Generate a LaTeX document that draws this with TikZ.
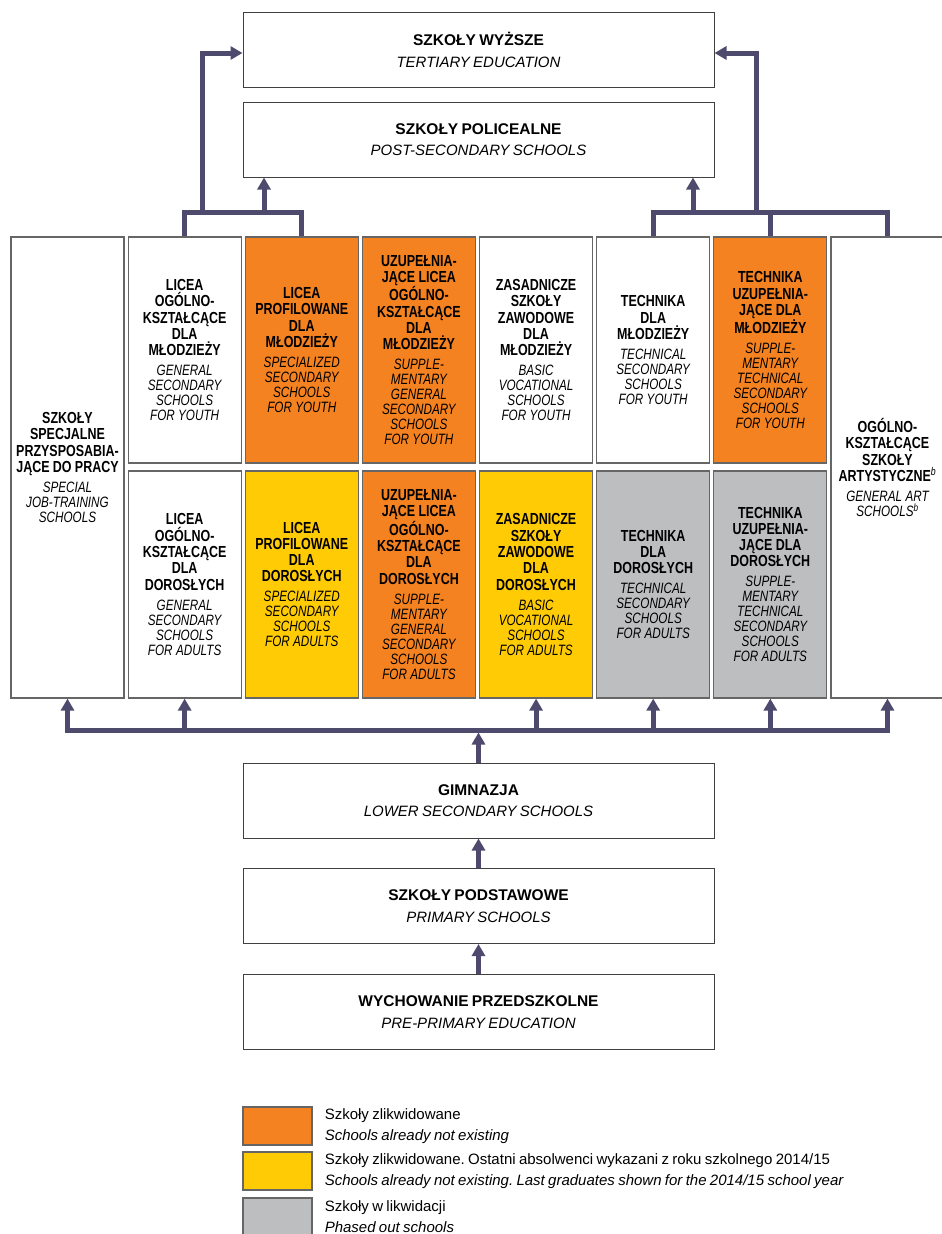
\documentclass[tikz,border=0pt]{standalone}
\usepackage{fontspec}
\setmainfont{Liberation Sans}
\newfontfamily\condfont{Liberation Sans}[FakeStretch=0.78]
\usetikzlibrary{arrows.meta,positioning}
\frenchspacing
\definecolor{flowc}{RGB}{78,74,110}
\definecolor{gone}{RGB}{245,130,32}
\definecolor{lastgrad}{RGB}{255,203,5}
\definecolor{phased}{RGB}{188,190,192}
\tikzset{>={Triangle[width=13pt,length=12pt]}}
\tikzstyle{level}=[draw=black!75,line width=1pt,minimum width=471pt,minimum height=75pt,
                   inner sep=0pt,text width=465pt,align=center]
\tikzstyle{school}=[draw=black!60,line width=1.2pt,minimum width=113pt,inner sep=0pt,
                    text width=111pt,align=center,font=\condfont]
\tikzstyle{flow}=[draw=flowc,line width=5pt]
\tikzstyle{key}=[draw=black!60,line width=1.2pt,minimum width=69pt,minimum height=38pt,inner sep=0pt]
\tikzstyle{keytext}=[inner sep=0pt,text width=600pt,align=left]
\newcommand{\lvltext}[2]{{\bfseries\fontsize{15.5}{18}\selectfont #1\par}%
  {\itshape\fontsize{15}{21.6}\selectfont #2\par}}
\newcommand{\celltext}[2]{{\bfseries\fontsize{16}{16.3}\selectfont #1\par}\vspace{5pt}%
  {\itshape\fontsize{15}{15}\selectfont #2\par}}
\newcommand{\keytext}[2]{{\fontsize{15}{21}\selectfont #1\par}{\itshape\fontsize{15}{21}\selectfont #2\par}}
\newcommand{\supb}{\textsuperscript{\normalfont\condfont\itshape b}}

\begin{document}
\begin{tikzpicture}[x=1pt,y=-1pt]
  \useasboundingbox (0,0) rectangle (942,1234);
  \def\dx{117.14} % column pitch
  \def\xa{67.5}   % centre of the first column

  % LEVELS
  \node[level] (wyzsze) at (478.5,50) {\lvltext{SZKOŁY WYŻSZE}{TERTIARY EDUCATION}};
  \node[level] (polic) at (478.5,139.5) {\lvltext{SZKOŁY POLICEALNE}{POST-SECONDARY SCHOOLS}};
  \node[level] (gimn) at (478.5,800.5) {\lvltext{GIMNAZJA}{LOWER SECONDARY SCHOOLS}};
  \node[level] (podst) at (478.5,906) {\lvltext{SZKOŁY PODSTAWOWE}{PRIMARY SCHOOLS}};
  \node[level] (przed) at (478.5,1012) {\lvltext{WYCHOWANIE PRZEDSZKOLNE}{PRE-PRIMARY EDUCATION}};

  % FULL HEIGHT COLUMNS
  \node[school,minimum height=461pt] (c1) at (\xa,467.5)
    {\celltext{SZKOŁY\\SPECJALNE\\PRZYSPOSABIA-\\JĄCE DO PRACY}{SPECIAL\\JOB-TRAINING\\SCHOOLS}};
  \node[school,minimum height=461pt] (c8) at (\xa+7*\dx,467.5)
    {\celltext{OGÓLNO-\\KSZTAŁCĄCE\\SZKOŁY\\ARTYSTYCZNE\supb}{GENERAL ART\\SCHOOLS\supb}};

  % YOUTH
  \node[school,minimum height=226pt] (c2t) at (\xa+\dx,350)
    {\celltext{LICEA\\OGÓLNO-\\KSZTAŁCĄCE\\DLA\\MŁODZIEŻY}{GENERAL\\SECONDARY\\SCHOOLS\\FOR YOUTH}};
  \node[school,minimum height=226pt,fill=gone] (c3t) at (\xa+2*\dx,350)
    {\celltext{LICEA\\PROFILOWANE\\DLA\\MŁODZIEŻY}{SPECIALIZED\\SECONDARY\\SCHOOLS\\FOR YOUTH}};
  \node[school,minimum height=226pt,fill=gone] (c4t) at (\xa+3*\dx,350)
    {\celltext{UZUPEŁNIA-\\JĄCE LICEA\\OGÓLNO-\\KSZTAŁCĄCE\\DLA\\MŁODZIEŻY}{SUPPLE-\\MENTARY\\GENERAL\\SECONDARY\\SCHOOLS\\FOR YOUTH}};
  \node[school,minimum height=226pt] (c5t) at (\xa+4*\dx,350)
    {\celltext{ZASADNICZE\\SZKOŁY\\ZAWODOWE\\DLA\\MŁODZIEŻY}{BASIC\\VOCATIONAL\\SCHOOLS\\FOR YOUTH}};
  \node[school,minimum height=226pt] (c6t) at (\xa+5*\dx,350)
    {\celltext{TECHNIKA\\DLA\\MŁODZIEŻY}{TECHNICAL\\SECONDARY\\SCHOOLS\\FOR YOUTH}};
  \node[school,minimum height=226pt,fill=gone] (c7t) at (\xa+6*\dx,350)
    {\celltext{TECHNIKA\\UZUPEŁNIA-\\JĄCE DLA\\MŁODZIEŻY}{SUPPLE-\\MENTARY\\TECHNICAL\\SECONDARY\\SCHOOLS\\FOR YOUTH}};

  % ADULTS
  \node[school,minimum height=227pt] (c2b) at (\xa+\dx,584.5)
    {\celltext{LICEA\\OGÓLNO-\\KSZTAŁCĄCE\\DLA\\DOROSŁYCH}{GENERAL\\SECONDARY\\SCHOOLS\\FOR ADULTS}};
  \node[school,minimum height=227pt,fill=lastgrad] (c3b) at (\xa+2*\dx,584.5)
    {\celltext{LICEA\\PROFILOWANE\\DLA\\DOROSŁYCH}{SPECIALIZED\\SECONDARY\\SCHOOLS\\FOR ADULTS}};
  \node[school,minimum height=227pt,fill=gone] (c4b) at (\xa+3*\dx,584.5)
    {\celltext{UZUPEŁNIA-\\JĄCE LICEA\\OGÓLNO-\\KSZTAŁCĄCE\\DLA\\DOROSŁYCH}{SUPPLE-\\MENTARY\\GENERAL\\SECONDARY\\SCHOOLS\\FOR ADULTS}};
  \node[school,minimum height=227pt,fill=lastgrad] (c5b) at (\xa+4*\dx,584.5)
    {\celltext{ZASADNICZE\\SZKOŁY\\ZAWODOWE\\DLA\\DOROSŁYCH}{BASIC\\VOCATIONAL\\SCHOOLS\\FOR ADULTS}};
  \node[school,minimum height=227pt,fill=phased] (c6b) at (\xa+5*\dx,584.5)
    {\celltext{TECHNIKA\\DLA\\DOROSŁYCH}{TECHNICAL\\SECONDARY\\SCHOOLS\\FOR ADULTS}};
  \node[school,minimum height=227pt,fill=phased] (c7b) at (\xa+6*\dx,584.5)
    {\celltext{TECHNIKA\\UZUPEŁNIA-\\JĄCE DLA\\DOROSŁYCH}{SUPPLE-\\MENTARY\\TECHNICAL\\SECONDARY\\SCHOOLS\\FOR ADULTS}};

  % UPWARD FLOW
  \coordinate (lbranch) at (202,213);
  \coordinate (lpol) at (264,213);
  \coordinate (rpol) at (693,213);
  \coordinate (rbranch) at (756,213);
  \draw[flow] (c2t.north) -- ++(0,-24) -| (c3t.north);
  \draw[flow,->] (lbranch) |- ([yshift=-3pt]wyzsze.west);
  \draw[flow,->] (lpol) -- (lpol |- polic.south);
  \draw[flow] (c6t.north) -- ++(0,-24) -| (c8.north);
  \draw[flow] (c7t.north) -- ++(0,-24);
  \draw[flow,->] (rbranch) |- ([yshift=-3pt]wyzsze.east);
  \draw[flow,->] (rpol) -- (rpol |- polic.south);

  % FROM GIMNAZJA
  \coordinate (busl) at (\xa,730);
  \coordinate (busr) at (\xa+7*\dx,730);
  \draw[flow,line cap=rect] (busl) -- (busr);
  \foreach \c in {c1,c2b,c5b,c6b,c7b,c8}
    \draw[flow,->] (\c.south |- busl) -- (\c.south);
  \draw[flow,->,shorten >=2.5pt] (gimn.north) -- (gimn.north |- busl);
  \draw[flow,->] (podst.north) -- (gimn.south);
  \draw[flow,->] (przed.north) -- (podst.south);

  % KEY
  \node[key,fill=gone] (k1) at (277.5,1126) {};
  \node[key,fill=lastgrad] (k2) at (277.5,1171) {};
  \node[key,fill=phased] (k3) at (277.5,1217) {};
  \node[keytext,right=12pt of k1] (t1) {\keytext{Szkoły zlikwidowane}{Schools already not existing}};
  \node[keytext,right=12pt of k2] (t2) {\keytext{Szkoły zlikwidowane. Ostatni absolwenci wykazani z roku szkolnego 2014/15}{Schools already not existing. Last graduates shown for the 2014/15 school year}};
  \node[keytext,right=12pt of k3] (t3) {\keytext{Szkoły w likwidacji}{Phased out schools}};
\end{tikzpicture}
\end{document}
